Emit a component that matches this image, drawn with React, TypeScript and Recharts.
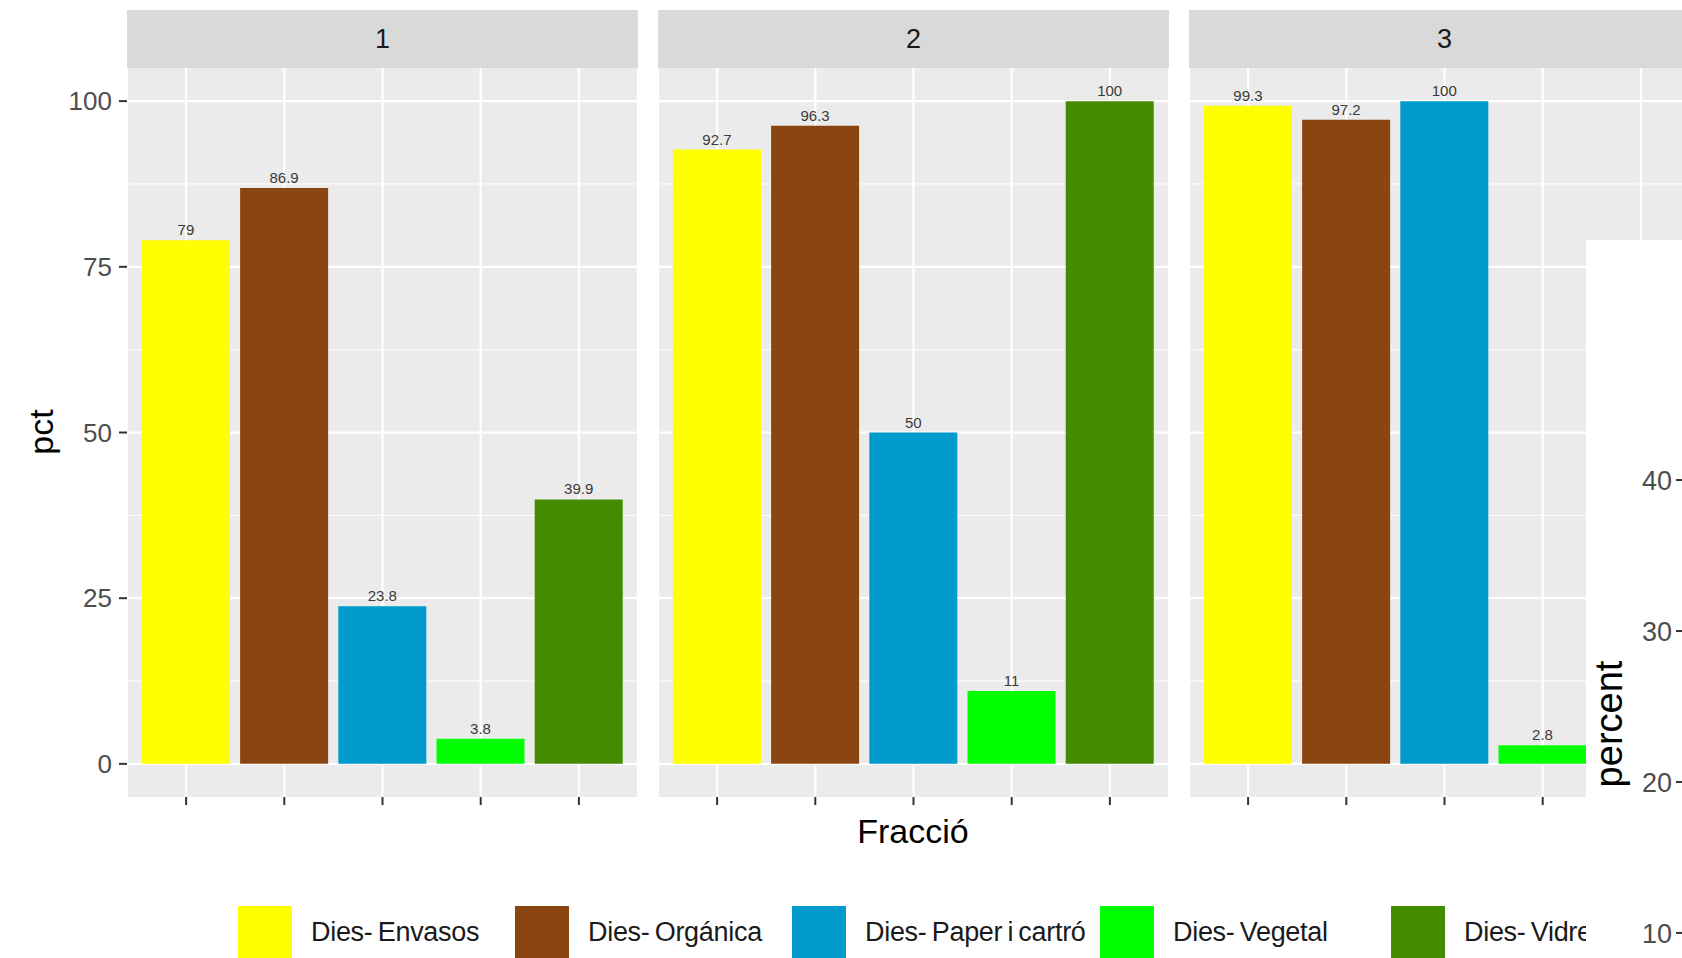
import React from 'react';
import {
  BarChart, Bar, Cell, XAxis, YAxis, CartesianGrid, LabelList, ComposedChart,
} from 'recharts';

// fraccions (x categories) and their fill colours
const FRACTIONS = ['Dies- Envasos', 'Dies- Orgánica', 'Dies- Paper i cartró', 'Dies- Vegetal', 'Dies- Vidre'];
const FILLS = ['#FFFF00', '#8B4513', '#009ACD', '#00FF00', '#458B00'];

// facet labels and pct per fraction
const FACETS = ['1', '2', '3'];
const PCT_1 = [79, 86.9, 23.8, 3.8, 39.9];
const PCT_2 = [92.7, 96.3, 50, 11, 100];
const PCT_3 = [99.3, 97.2, 100, 2.8, 60]; // last bar sits under the pasted inset

const Y_TICKS = [0, 25, 50, 75, 100];
const Y_MINOR = [12.5, 37.5, 62.5, 87.5];
const INSET_TICKS = [10, 20, 30, 40];

const FONT = '"Liberation Sans", Arial, sans-serif';
const PANEL_W = 511;
const Y_AXIS_W = 127;
const FACET_LEFT = [127, 658, 1189];
const LEGEND_LEFT = [238, 515, 792, 1100, 1391];

const blank = () => '';

function Facet({ label, values, showY, left }: { label: string; values: number[]; showY: boolean; left: number }) {
  const data = FRACTIONS.map((f, i) => ({ fraccio: f, pct: values[i] }));
  const yw = showY ? Y_AXIS_W : 0;
  return (
    <div style={{ position: 'absolute', left: left - yw, top: 10 }}>
      <div
        style={{
          marginLeft: yw, width: PANEL_W, height: 58, background: '#D9D9D9', color: '#1A1A1A',
          fontSize: 27, display: 'flex', alignItems: 'center', justifyContent: 'center',
        }}
      >
        {label}
      </div>
      <BarChart
        width={PANEL_W + yw}
        height={749}
        data={data}
        margin={{ top: 0, right: 0, bottom: 0, left: 0 }}
        barCategoryGap="5%"
      >
        <CartesianGrid fill="#EBEBEB" stroke="#FFFFFF" strokeWidth={2.2} horizontalValues={Y_TICKS} />
        <CartesianGrid stroke="#FFFFFF" strokeWidth={1} vertical={false} horizontalValues={Y_MINOR} />
        <XAxis
          dataKey="fraccio"
          tickFormatter={blank}
          tick={{ fontSize: 1 }}
          tickSize={8}
          tickLine={{ stroke: '#333333', strokeWidth: 2 }}
          axisLine={false}
          padding={{ left: 10, right: 10 }}
          height={20}
          interval={0}
        />
        <YAxis
          type="number"
          domain={[-5, 105]}
          ticks={Y_TICKS}
          allowDataOverflow
          hide={!showY}
          width={Y_AXIS_W}
          axisLine={false}
          tickSize={8}
          tickMargin={7}
          tickLine={{ stroke: '#333333', strokeWidth: 2 }}
          tick={{ fill: '#4D4D4D', fontSize: 26 }}
        />
        <Bar dataKey="pct" isAnimationActive={false}>
          {data.map((d, i) => (
            <Cell key={d.fraccio} fill={FILLS[i]} />
          ))}
          <LabelList dataKey="pct" position="top" offset={5} fontSize={15} fill="#3A3A3A" />
        </Bar>
      </BarChart>
    </div>
  );
}

export default function App() {
  const series = [PCT_1, PCT_2, PCT_3];
  return (
    <div
      style={{
        position: 'absolute', left: 0, top: 0, width: 1682, height: 958, overflow: 'hidden',
        background: '#FFFFFF', fontFamily: FONT,
      }}
    >
      {FACETS.map((f, i) => (
        <Facet key={f} label={f} values={series[i]} showY={i === 0} left={FACET_LEFT[i]} />
      ))}

      {/* axis titles */}
      <div
        style={{
          position: 'absolute', left: 41, top: 432, fontSize: 34, color: '#000',
          transform: 'translate(-50%, -50%) rotate(-90deg)', whiteSpace: 'nowrap',
        }}
      >
        pct
      </div>
      <div
        style={{
          position: 'absolute', left: 913, top: 831, fontSize: 34, color: '#000',
          transform: 'translate(-50%, -50%)', whiteSpace: 'nowrap',
        }}
      >
        Fracció
      </div>

      {/* legend */}
      {FRACTIONS.map((f, i) => (
        <div
          key={f}
          style={{ position: 'absolute', left: LEGEND_LEFT[i], top: 906, height: 52, display: 'flex', alignItems: 'center' }}
        >
          <div style={{ width: 54, height: 52, background: FILLS[i], marginRight: 19 }} />
          <span style={{ fontSize: 27, color: '#1A1A1A', whiteSpace: 'nowrap', wordSpacing: -2, letterSpacing: -0.3 }}>{f}</span>
        </div>
      ))}

      {/* pasted inset of another chart's axis */}
      <div
        style={{
          position: 'absolute', left: 1586, top: 240, width: 96, height: 718, background: '#FFFFFF',
        }}
      >
        <ComposedChart width={96} height={718} data={[]} margin={{ top: 0, right: 0, bottom: 0, left: 0 }}>
          <XAxis hide />
          <YAxis
            type="number"
            domain={[8.34, 55.9]}
            ticks={INSET_TICKS}
            allowDataOverflow
            width={96}
            axisLine={false}
            tickSize={6}
            tickMargin={4}
            tickLine={{ stroke: '#333333', strokeWidth: 2 }}
            tick={{ fill: '#4D4D4D', fontSize: 27 }}
          />
        </ComposedChart>
        <div
          style={{
            position: 'absolute', left: 23, top: 484, fontSize: 38, color: '#000',
            transform: 'translate(-50%, -50%) rotate(-90deg)', whiteSpace: 'nowrap',
          }}
        >
          percent
        </div>
      </div>
    </div>
  );
}
